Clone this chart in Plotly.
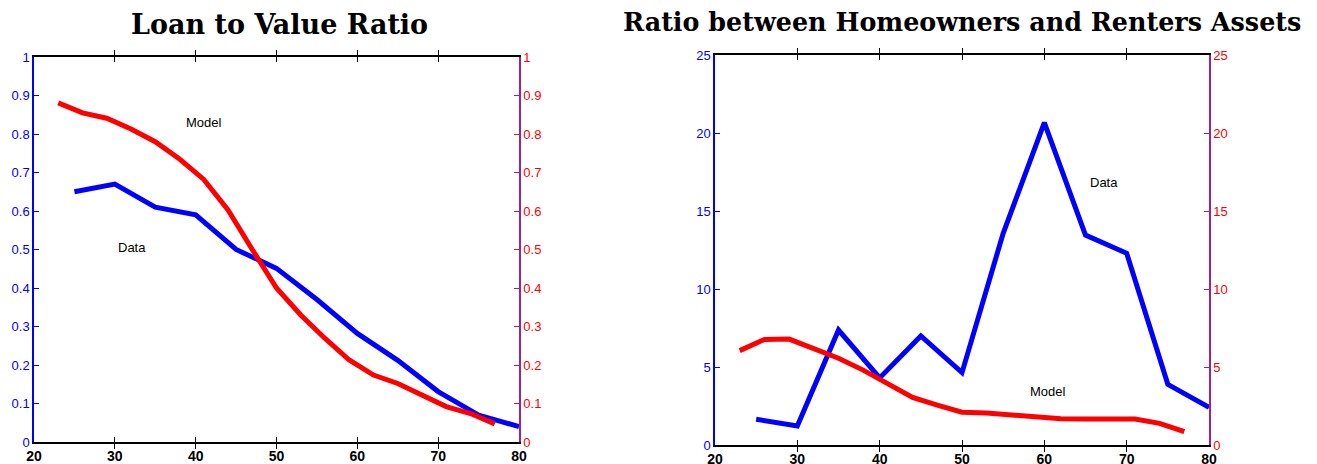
import plotly.graph_objects as go

# ---- Left panel: Loan to Value Ratio ----
ltv_data_age = [25, 30, 35, 40, 45, 50, 55, 60, 65, 70, 75, 80]
ltv_data = [0.650, 0.670, 0.610, 0.590, 0.500, 0.451, 0.370, 0.282, 0.212, 0.131, 0.070, 0.040]
ltv_model_age = [23, 26, 29, 32, 35, 38, 41, 44, 47, 50, 53, 56, 59, 62, 65, 68, 71, 74, 77]
ltv_model = [0.881, 0.855, 0.841, 0.813, 0.780, 0.735, 0.682, 0.603, 0.500, 0.400, 0.330,
             0.269, 0.213, 0.174, 0.152, 0.122, 0.092, 0.074, 0.047]

# ---- Right panel: Ratio between Homeowners and Renters Assets ----
ratio_data_age = [25, 30, 35, 40, 45, 50, 55, 60, 65, 70, 75, 80]
ratio_data = [1.65, 1.22, 7.37, 4.30, 6.99, 4.64, 13.57, 20.66, 13.46, 12.29, 3.89, 2.41]
ratio_model_age = [23, 26, 29, 32, 35, 38, 41, 44, 47, 50, 53, 56, 59, 62, 65, 68, 71, 74, 77]
ratio_model = [6.05, 6.77, 6.79, 6.20, 5.56, 4.80, 3.90, 3.05, 2.55, 2.10, 2.05, 1.92, 1.80,
               1.68, 1.66, 1.70, 1.67, 1.39, 0.85]

titles = ["Loan to Value Ratio", "Ratio between Homeowners and Renters Assets"]
x_ticks = [20, 30, 40, 50, 60, 70, 80]

BLUE = "#0000ff"
RED = "#ff0000"
PURPLE = "#a0208f"

W, H = 1309, 456   # page body has an 8px margin


def px(x):  # screen x -> paper fraction
    return (x - 8) / W


def py(y):  # screen y -> paper fraction (from bottom)
    return (H - (y - 8)) / H


fig = go.Figure()
fig.add_trace(go.Scatter(x=ltv_data_age, y=ltv_data, mode="lines",
                         line=dict(color=BLUE, width=5), xaxis="x", yaxis="y"))
fig.add_trace(go.Scatter(x=ltv_model_age, y=ltv_model, mode="lines",
                         line=dict(color=RED, width=5), xaxis="x", yaxis="y2"))
fig.add_trace(go.Scatter(x=ratio_data_age, y=ratio_data, mode="lines",
                         line=dict(color=BLUE, width=5), xaxis="x2", yaxis="y3"))
fig.add_trace(go.Scatter(x=ratio_model_age, y=ratio_model, mode="lines",
                         line=dict(color=RED, width=5), xaxis="x2", yaxis="y4"))

tickfont_y = dict(family="Liberation Sans, Arial", size=13)
xcommon = dict(range=[20, 80], tickvals=x_ticks, ticks="inside", ticklen=5, tickcolor="black",
               showline=True, linecolor="black", linewidth=1.5, mirror="allticks",
               showgrid=False, zeroline=False, automargin=False,
               tickfont=dict(family="Liberation Sans, Arial", size=14, color="black", weight="bold"))
ycommon = dict(ticks="inside", ticklen=5, showline=True, linewidth=1.5, showgrid=False,
               zeroline=False, automargin=False)

left_dom_x = [px(34), px(519)]
left_dom_y = [py(442), py(57)]
right_dom_x = [px(715), px(1209)]
right_dom_y = [py(445), py(55)]

fig.update_layout(
    width=W, height=H,
    margin=dict(l=0, r=0, t=0, b=0),
    paper_bgcolor="white", plot_bgcolor="white",
    showlegend=False,
    xaxis=dict(domain=left_dom_x, anchor="y", **xcommon),
    xaxis2=dict(domain=right_dom_x, anchor="y3", **xcommon),
    yaxis=dict(domain=left_dom_y, anchor="x", range=[0, 1], dtick=0.1,
               tickcolor=BLUE, linecolor=BLUE, tickfont=dict(color=BLUE, **tickfont_y), **ycommon),
    yaxis2=dict(domain=left_dom_y, anchor="x", overlaying="y", side="right",
                range=[0, 1], dtick=0.1, tickcolor=PURPLE, linecolor=PURPLE,
                tickfont=dict(color=RED, **tickfont_y), **ycommon),
    yaxis3=dict(domain=right_dom_y, anchor="x2", range=[0, 25], dtick=5,
                tickcolor=BLUE, linecolor=BLUE, tickfont=dict(color=BLUE, **tickfont_y), **ycommon),
    yaxis4=dict(domain=right_dom_y, anchor="x2", overlaying="y3", side="right",
                range=[0, 25], dtick=5, tickcolor=PURPLE, linecolor=PURPLE,
                tickfont=dict(color=RED, **tickfont_y), **ycommon),
)

label_font = dict(family="Liberation Sans, Arial", size=13, color="black")
fig.add_annotation(x=41, y=0.83, xref="x", yref="y", text="Model", showarrow=False, font=label_font)
fig.add_annotation(x=32.1, y=0.506, xref="x", yref="y", text="Data", showarrow=False, font=label_font)
fig.add_annotation(x=67.2, y=16.8, xref="x2", yref="y3", text="Data", showarrow=False, font=label_font)
fig.add_annotation(x=60.4, y=3.4, xref="x2", yref="y3", text="Model", showarrow=False, font=label_font)

fig.add_annotation(x=px(279), y=py(24), xref="paper", yref="paper", text=titles[0],
                   showarrow=False, xanchor="center", yanchor="middle",
                   font=dict(family="DejaVu Serif", size=27, color="black", weight="bold"))
fig.add_annotation(x=px(962), y=py(22), xref="paper", yref="paper", text=titles[1],
                   showarrow=False, xanchor="center", yanchor="middle",
                   font=dict(family="DejaVu Serif", size=25.4, color="black", weight="bold"))

fig.write_html("out.html")
